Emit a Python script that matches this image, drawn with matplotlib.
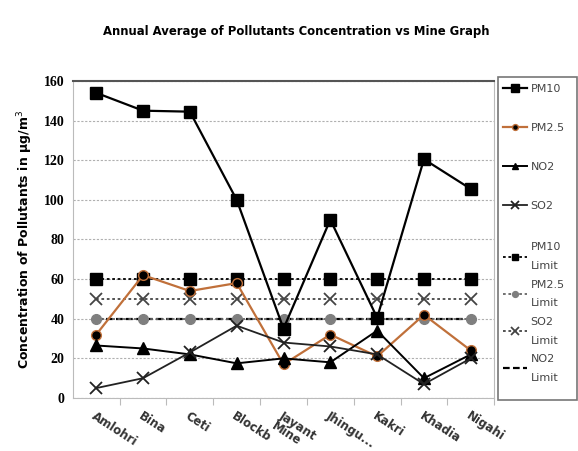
import matplotlib.pyplot as plt
from matplotlib.patches import Rectangle

mines = ["Amlohri", "Bina", "Ceti", "Blockb", "Jayant\nMine", "Jhingu...", "Kakri", "Khadia", "Nigahi"]
pm10 = [154, 145, 144.5, 100, 35, 90, 40.5, 120.5, 105.5]
pm25 = [32, 62, 54, 58, 17, 32, 21, 42, 24]
no2 = [26.5, 25, 22, 17.5, 20, 18, 34, 10, 22]
so2 = [5, 10, 23, 36.5, 28, 26, 22, 7, 20]
pm10_limit = [60] * 9
pm25_limit = [40] * 9
so2_limit = [50] * 9
no2_limit = [40] * 9

fig = plt.figure(figsize=(5.78, 4.51), dpi=100)
ax = fig.add_axes([0.126, 0.1175, 0.729, 0.703])
x = list(range(len(mines)))

ax.plot(x, no2_limit, ls=(0, (3, 1.5)), color="black", lw=1.6, label="NO2\nLimit", zorder=2)
ax.plot(x, pm10_limit, ls=(0, (1.5, 1.5)), color="black", lw=1.3, marker="s", ms=8, label="PM10\nLimit", zorder=2)
ax.plot(x, pm25_limit, ls=(0, (1.5, 1.5)), color="#666666", lw=1.3, marker="o", ms=7,
        mfc="#7f7f7f", mec="#7f7f7f", label="PM2.5\nLimit", zorder=2)
ax.plot(x, so2_limit, ls=(0, (1.5, 1.5)), color="#444444", lw=1.3, marker="x", ms=9, mew=1.3,
        label="SO2\nLimit", zorder=2)

ax.plot(x, pm10, color="black", lw=1.6, marker="s", ms=8.5, label="PM10", zorder=4)
ax.plot(x, pm25, color="#c0703a", lw=1.6, marker="o", ms=7, mfc="black", mec="#c0703a",
        label="PM2.5", zorder=3)
ax.plot(x, no2, color="black", lw=1.4, marker="^", ms=8, label="NO2", zorder=3)
ax.plot(x, so2, color="#222222", lw=1.3, marker="x", ms=9, mew=1.3, label="SO2", zorder=3)

ax.set_xlim(-0.5, len(mines) - 0.5)
ax.set_ylim(0, 160)
ax.set_yticks(range(0, 161, 20))
ax.yaxis.grid(True, ls=(0, (2, 1.5)), color="#b0b0b0", lw=0.8)
ax.set_axisbelow(True)
for s in ["left", "right", "bottom"]:
    ax.spines[s].set_color("#bbbbbb")
ax.spines["top"].set_color("#555555")
ax.spines["top"].set_linewidth(1.5)
ax.tick_params(axis="y", length=0, labelsize=10, pad=6)
ax.tick_params(axis="x", length=5, color="#bbbbbb")
ax.set_xticks([i + 0.5 for i in range(len(mines))], minor=False)
ax.set_xticklabels([])
ax.set_xticks(x, minor=True)
ax.set_xticklabels(mines, minor=True, rotation=-33, ha="left", rotation_mode="anchor",
                   fontsize=8.5, fontweight="bold", color="#333333", linespacing=1.0)
ax.tick_params(axis="x", which="minor", length=0, pad=8)
for lab in ax.get_yticklabels():
    lab.set_fontfamily("Liberation Serif")
    lab.set_fontweight("bold")
ax.set_ylabel("Concentration of Pollutants in µg/m$^3$", fontsize=9, fontweight="bold", labelpad=6)

fig.suptitle("Annual Average of Pollutants Concentration vs Mine Graph", x=0.513, y=0.945,
             fontsize=8.4, fontweight="bold")

handles, labels = ax.get_legend_handles_labels()
hmap = dict(zip(labels, handles))
top = ["PM10", "PM2.5", "NO2", "SO2"]
bottom = ["PM10\nLimit", "PM2.5\nLimit", "SO2\nLimit", "NO2\nLimit"]
leg_style = dict(loc="center left", fontsize=8, frameon=False, handlelength=2.2,
                 handletextpad=0.3, borderpad=0, borderaxespad=0, markerscale=0.6)
leg1 = fig.legend([hmap[k] for k in top], top, bbox_to_anchor=(0.870, 0.673),
                  labelspacing=2.6, **leg_style)
leg2 = fig.legend([hmap[k] for k in bottom], bottom, bbox_to_anchor=(0.870, 0.307),
                  labelspacing=0.75, **leg_style)
for leg in (leg1, leg2):
    for t in leg.get_texts():
        t.set_color("#444444")
        t.set_linespacing(2.1)
fig.add_artist(Rectangle((498 / 578, 51 / 451), 1 - 498 / 578 - 0.002, 323 / 451,
                         transform=fig.transFigure, fill=False, edgecolor="#777777", lw=1.2))

fig.savefig("out.png", dpi=100)
